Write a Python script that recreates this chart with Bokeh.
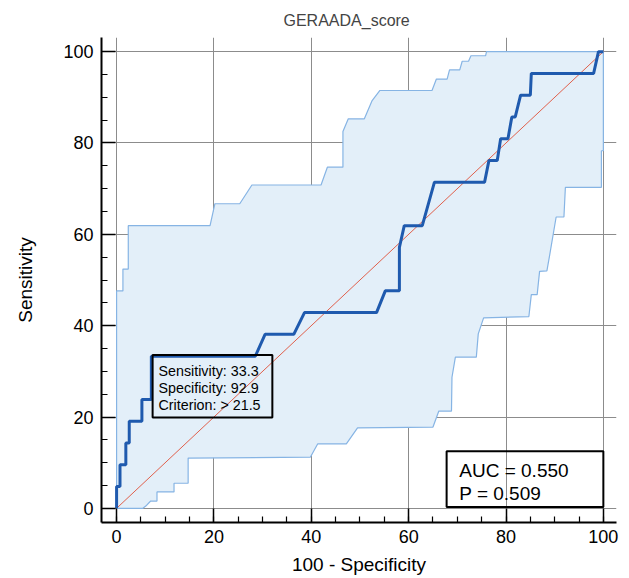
from bokeh.plotting import figure
from bokeh.models import Range1d, SingleIntervalTicker
from bokeh.core.properties import value
from bokeh.embed import file_html
from bokeh.resources import INLINE

# ROC curve (100 - specificity, sensitivity)
roc_x = [0, 0, 0.7, 0.7, 1.9, 1.9, 2.6, 2.6, 5.2, 5.2, 7.14, 7.14, 28.5, 30.5, 36.4, 38.6,
         53.4, 55.2, 58.1, 58.1, 59.1, 62.8, 65.3, 75.6, 76.5, 78.2, 78.9, 80.4, 81.2, 81.9,
         83.0, 85.0, 85.2, 98.0, 99.0, 100]
roc_y = [0, 4.76, 4.76, 9.52, 9.52, 14.29, 14.29, 19.05, 19.05, 23.81, 23.81, 33.33, 33.33,
         38.1, 38.1, 42.86, 42.86, 47.62, 47.62, 57.14, 61.9, 61.9, 71.43, 71.43, 76.19, 76.19,
         80.95, 80.95, 85.71, 85.71, 90.48, 90.48, 95.24, 95.24, 100, 100]

# upper confidence bound
up_x = [0, 0, 1.3, 1.3, 2.4, 2.4, 19.2, 20.2, 25.3, 27.8, 42.0, 43.3, 46.5, 46.5, 47.6, 50.9,
        52.5, 54.1, 64.8, 65.7, 67.9, 68.4, 70.5, 71.0, 72.3, 72.8, 75.8, 76.0, 100]
up_y = [0, 47.6, 47.6, 52.4, 52.4, 61.9, 61.9, 66.7, 66.7, 70.8, 70.8, 74.7, 74.7, 82.5, 85.3,
        85.3, 89.3, 91.5, 91.5, 94.0, 94.0, 96.0, 96.0, 97.9, 97.9, 99.1, 99.1, 100, 100]

# lower confidence bound
lo_x = [0, 5.4, 6.0, 7.0, 8.3, 8.3, 11.8, 11.8, 14.7, 14.7, 39.8, 41.3, 47.2, 49.5, 65.0, 66.2,
        68.8, 68.9, 69.6, 73.9, 74.3, 75.4, 84.7, 85.2, 86.4, 86.9, 88.4, 88.9, 90.3, 91.9,
        92.2, 99.6, 99.6, 100, 100]
lo_y = [0, 0, 0.5, 1.6, 1.6, 3.6, 3.6, 5.5, 5.5, 11.0, 11.2, 14.1, 14.1, 17.6, 17.8, 21.3,
        21.3, 28.7, 33.1, 33.1, 38.2, 41.7, 42.0, 46.8, 46.8, 51.9, 52.0, 55.0, 63.8, 63.8,
        70.3, 70.3, 78.3, 78.3, 100]

diag_x = [0, 100]
diag_y = [0, 100]

ticks = [0, 20, 40, 60, 80, 100]

info_lines = ["Sensitivity: 33.3", "Specificity: 92.9", "Criterion: > 21.5"]
auc_lines = ["AUC = 0.550", "P = 0.509"]

FONT = "Liberation Sans"

p = figure(frame_width=515, frame_height=485,
           x_range=Range1d(-3.1, 102.7), y_range=Range1d(-3.1, 103.1),
           output_backend="svg", toolbar_location=None,
           min_border_left=101, min_border_right=12, min_border_top=37, min_border_bottom=54)
p.outline_line_color = None
p.background_fill_color = "white"

p.title.text = "GERAADA_score"
p.title.text_font = FONT
p.title.text_font_size = "16px"
p.title.text_font_style = "normal"
p.title.align = "left"
p.title.offset = 182
p.title.standoff = 18

for ax in (p.xaxis[0], p.yaxis[0]):
    ax.ticker = SingleIntervalTicker(interval=20, num_minor_ticks=4)
    ax.axis_line_width = 2
    ax.axis_line_color = "black"
    ax.major_tick_in = 14
    ax.major_tick_out = 0
    ax.minor_tick_in = 6
    ax.minor_tick_out = 0
    ax.major_tick_line_width = 1.5
    ax.minor_tick_line_width = 1.2
    ax.major_tick_line_color = "black"
    ax.minor_tick_line_color = "black"
    ax.major_label_text_font = FONT
    ax.major_label_text_font_size = "18px"
    ax.major_label_text_color = "black"
    ax.axis_label_text_font = FONT
    ax.axis_label_text_font_size = "19px"
    ax.axis_label_text_font_style = "normal"
    ax.axis_label_text_color = "black"

p.xaxis.axis_label = "100 - Specificity"
p.yaxis.axis_label = "Sensitivity"
p.xaxis.major_label_standoff = 7
p.yaxis.major_label_standoff = 8
p.xaxis.axis_label_standoff = 8
p.yaxis.axis_label_standoff = 24

for g in (p.xgrid[0], p.ygrid[0]):
    g.ticker = SingleIntervalTicker(interval=20)
    g.grid_line_color = "#8c8c8c"
    g.grid_line_width = 1

# confidence band
band_x = up_x + lo_x[::-1]
band_y = up_y + lo_y[::-1]
p.patch(band_x, band_y, fill_color="#e3eff9", line_color=None)
p.line(up_x, up_y, line_color="#86b4e4", line_width=1.2)
p.line(lo_x, lo_y, line_color="#86b4e4", line_width=1.2)

# diagonal reference
p.line(diag_x, diag_y, line_color="#e0604c", line_width=1)

# ROC curve
p.line(roc_x, roc_y, line_color="#1f5aae", line_width=3)

# criterion box
p.quad(left=[7.4], right=[32.0], bottom=[19.9], top=[33.6], fill_color=None,
       line_color="black", line_width=2)
p.text(x=[8.6] * 3, y=[30.0, 26.3, 22.6], text=info_lines, text_font=value(FONT),
       text_font_size="14.3px", text_baseline="middle", text_align="left", text_color="black")

# AUC box
p.quad(left=[67.8], right=[100.0], bottom=[0.3], top=[12.5], fill_color=None,
       line_color="black", line_width=2)
p.text(x=[70.4] * 2, y=[8.3, 3.2], text=auc_lines, text_font=value(FONT),
       text_font_size="19px", text_baseline="middle", text_align="left", text_color="black")

open("out.html", "w").write(file_html(p, INLINE))
